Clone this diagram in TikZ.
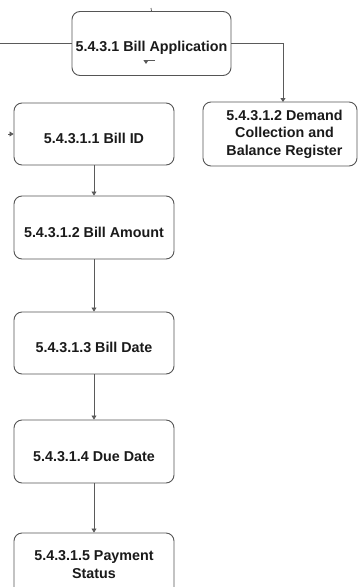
\documentclass[tikz,border=0pt]{standalone}
\usepackage{fontspec}
\setmainfont{Liberation Sans}
\usetikzlibrary{arrows.meta}
\definecolor{lineC}{HTML}{5A5A5A}
\definecolor{boxC}{HTML}{555555}
\definecolor{txtC}{HTML}{1A1A1A}
\tikzset{
  boxnode/.style={draw=boxC, line width=0.9pt, rounded corners=8pt, minimum width=160pt,
    minimum height=63pt, inner sep=0pt, align=center, text=txtC,
    font=\fontsize{14.3}{17.5}\selectfont\bfseries},
  lowtext/.style={text height=18.4pt, text depth=0pt},
  conn/.style={draw=lineC, line width=0.8pt},
  arr/.style={conn, -{Triangle[length=4pt,width=5pt]}}
}
\begin{document}
\begin{tikzpicture}[x=1pt,y=-1pt]
\useasboundingbox[fill=white] (0,0) rectangle (359,587);
% boxes
\node[boxnode, minimum width=159pt, minimum height=64pt, text height=16.4pt, text depth=0pt] (app) at (151.5,43.5) {5.4.3.1 Bill Application};
\node[boxnode, minimum width=154pt, minimum height=64pt] (dcb) at (280,134) {\hspace*{9pt}5.4.3.1.2 Demand\\\hspace*{9pt}Collection and\\\hspace*{9pt}Balance Register};
\node[boxnode, lowtext, minimum height=62pt] (id) at (94,134) {5.4.3.1.1 Bill ID};
\node[boxnode, lowtext, text height=20.4pt] (amt) at (94,227.5) {5.4.3.1.2 Bill Amount};
\node[boxnode, lowtext, minimum height=62pt] (bdate) at (94,343) {5.4.3.1.3 Bill Date};
\node[boxnode, lowtext, text height=19.4pt] (due) at (94,451.5) {5.4.3.1.4 Due Date};
\node[boxnode, minimum height=63pt] (pay) at (94,564.5) {5.4.3.1.5 Payment\\Status};
% free ends
\coordinate (lin) at (0,43.5);
\coordinate (ttop) at (151,8);
\coordinate (bend) at (283,43.5);
\coordinate (dtop) at (283,102);
\coordinate (sA) at (155,60);
\coordinate (sB) at (146,60);
\coordinate (sC) at (146,64);
\coordinate (lid) at (8,134);
% connectors
\draw[conn] (lin) -- (app.west);
\draw[conn] (ttop) -- (app.north);
\draw[arr] (app.east) -- (bend) -- (dtop);
\draw[arr] (sA) -- (sB) -- (sC);
\draw[arr] (lid) -- (id.west);
\draw[arr] (id.south) -- (amt.north);
\draw[arr] (amt.south) -- (bdate.north);
\draw[arr] (bdate.south) -- (due.north);
\draw[arr] (due.south) -- (pay.north);
\end{tikzpicture}
\end{document}
